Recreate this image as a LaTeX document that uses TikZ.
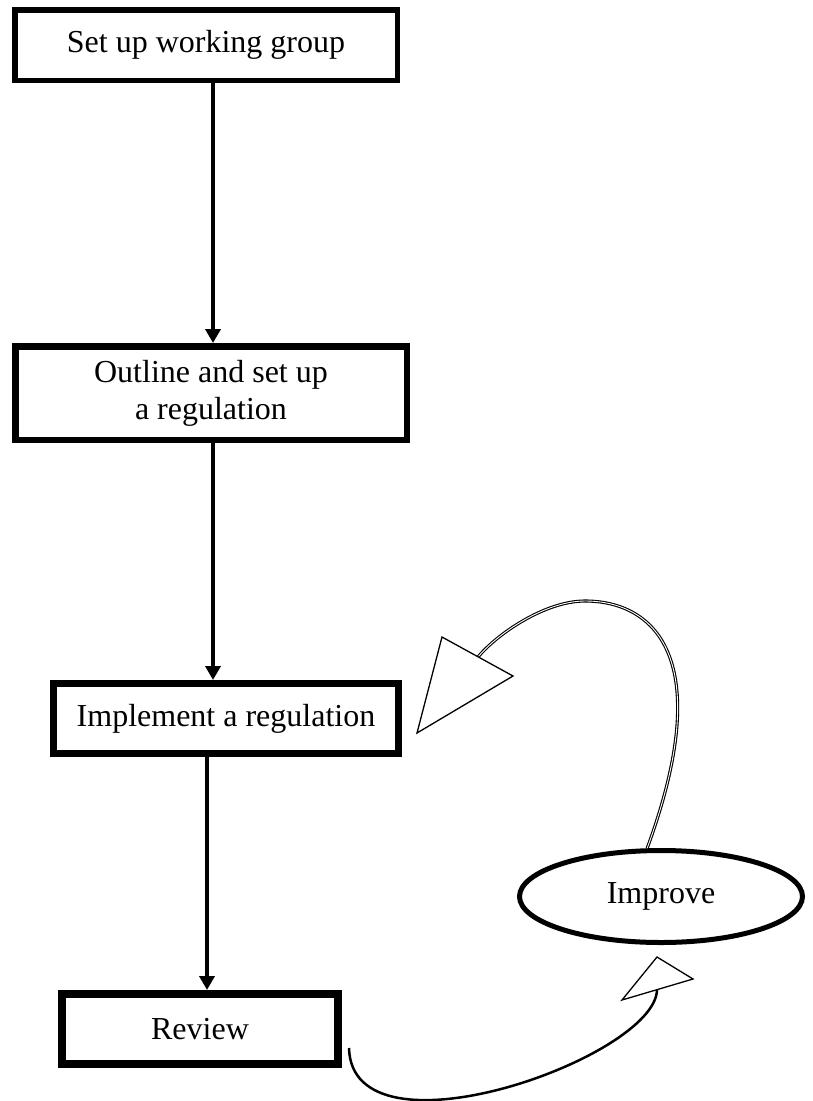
\documentclass[tikz,border=0pt]{standalone}
\usepackage{fontspec}
\setmainfont{Liberation Serif}
\usetikzlibrary{arrows.meta,shapes.geometric}

\begin{document}
\begin{tikzpicture}[
						x=1pt, y=-1pt,
						every node/.style={font=\fontsize{32}{37}\selectfont, inner sep=0pt},
						stepbox/.style={draw, rectangle, align=center},
						flow/.style={line width=3.5pt, -{Triangle[length=14pt,width=15pt]}},
						loopline/.style={line width=2.5pt},
						dblline/.style={double, double distance=0.9pt, line width=1.1pt},
						openhead/.style={fill=white, draw, line width=1.3pt, line join=miter}
						]
						
						\useasboundingbox (0,0) rectangle (812,1101);
						
						% Steps
						\node[stepbox, line width=5.5pt, minimum width=382.5pt, minimum height=70.5pt] (group) at (206,45) {Set up working group};
						\node[stepbox, line width=6.5pt, minimum width=391.5pt, minimum height=93.5pt] (outline) at (211,393) {Outline and set up\\a regulation};
						\node[stepbox, line width=7pt, minimum width=345pt, minimum height=70pt] (implement) at (226,718.5) {Implement a regulation};
						\node[stepbox, line width=8pt, minimum width=276pt, minimum height=70pt] (review) at (200,1029) {Review};
						\node[draw, ellipse, line width=5pt, minimum width=283pt, minimum height=92pt] (improve) at (661,896.5) {Improve};
						
						% Main flow
						\draw[flow] ([xshift=7pt]group.south) -- ([xshift=2pt]outline.north);
						\draw[flow] ([xshift=2pt]outline.south) -- ([xshift=-13pt]implement.north);
						\draw[flow] ([xshift=-19pt]implement.south) -- ([xshift=7pt]review.north);
						
						% Feedback loop
						\coordinate (lowbase) at (657,990);
						\coordinate (top) at (585,601);
						\coordinate (upbase) at (478,657);
						
						\draw[loopline] ([xshift=7pt,yshift=-19pt]review.east) .. controls (352,1165) and (655,1058) .. (lowbase);
						\draw[dblline] (improve.106) .. controls (718,655) and (652,601) .. (top)
							.. controls (545,601) and (497,634) .. (upbase);
						
						\draw[openhead] (622,1000) -- (657,957) -- (693,979) -- cycle;
						\draw[openhead] (442,637) -- (417,733) -- (513,676) -- cycle;
						
					\end{tikzpicture}
\end{document}
